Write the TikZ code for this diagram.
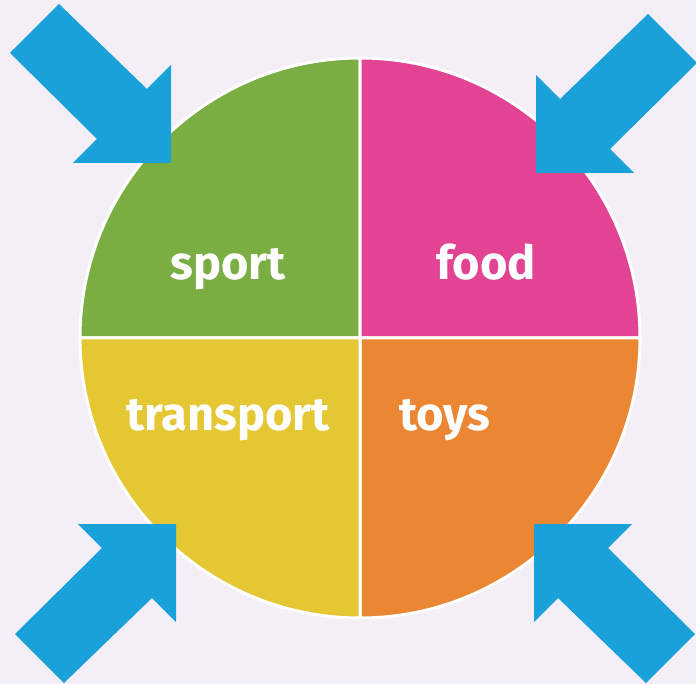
\documentclass[tikz,border=0pt]{standalone}
\usepackage{fontspec}
\newfontfamily\topicfont{Fira Sans}
\usepackage{tikz}
\usetikzlibrary{calc,positioning}
\definecolor{bgpaper}{HTML}{F4EFF7}
\definecolor{sportgreen}{HTML}{7AAE42}
\definecolor{foodpink}{HTML}{E24393}
\definecolor{transyellow}{HTML}{E4C733}
\definecolor{toysorange}{HTML}{EB8733}
\definecolor{pointblue}{HTML}{1AA1DA}
\def\wheelrad{280}

\begin{document}
\begin{tikzpicture}[x=1pt,y=-1pt]
\tikzstyle{quarter}=[draw=white,line width=3pt,line join=round]
\tikzstyle{topic}=[text=white,anchor=base,inner sep=0pt,font=\topicfont\bfseries\fontsize{47}{47}\selectfont]
\tikzstyle{pointer}=[fill=pointblue]

% Paper
\fill[bgpaper] (0,0) rectangle (696,684);
\useasboundingbox (0,0) rectangle (696,684);

% The wheel, one quarter per topic
\coordinate (C) at (360,338);
\foreach \col/\a in {sportgreen/180,foodpink/270,toysorange/0,transyellow/90}
\filldraw[quarter,fill=\col] (C) -- +(\a:\wheelrad) arc[start angle=\a,delta angle=90,radius=\wheelrad] -- cycle;

% Topic labels
\node[topic] (sport) at (228,280) {sport};
\node[topic] (food) at (486,280) {food};
\node[topic] (transport) at (228,430) {transport};
\node[topic] (toys) at (445,430) {toys};

% Arrows pointing in from the corners
\foreach \name/\tx/\ty/\sx/\sy in {nw/171/163/-1/-1,ne/536/173/1/-1,sw/176/524/-1/1,se/534/524/1/1}
\fill[pointer,shift={(\tx,\ty)},xscale=\sx,yscale=\sy]
(0,0) -- (98,0) -- (74,24) -- (161,110) -- (112,159) -- (24,74) -- (0,98) -- cycle;
\end{tikzpicture}
\end{document}
